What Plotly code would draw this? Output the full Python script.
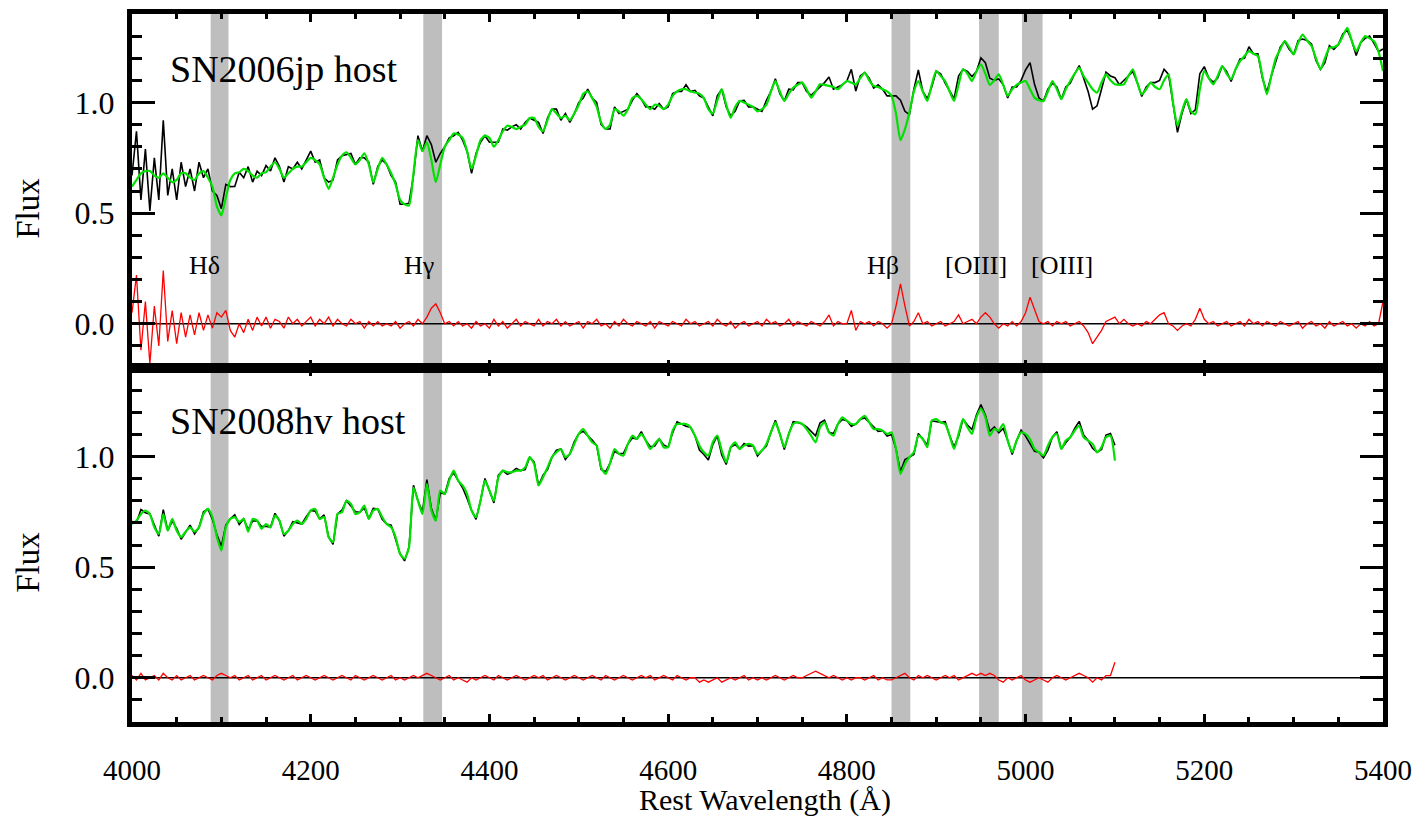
import plotly.graph_objects as go

# ---------------- data ----------------
wl_top = list(range(4000, 5401, 5))
model_top = [
    0.62, 0.65, 0.68, 0.69, 0.69, 0.67, 0.66, 0.68, 0.66, 0.64, 0.65, 0.68, 0.68, 0.66, 0.65, 0.68, 0.69, 0.66, 0.62, 0.53,
    0.49, 0.57, 0.65, 0.68, 0.685, 0.70, 0.69, 0.67, 0.66, 0.68, 0.685, 0.71, 0.73, 0.70, 0.66, 0.68, 0.70, 0.71, 0.71, 0.73,
    0.75, 0.74, 0.72, 0.66, 0.61, 0.66, 0.72, 0.76, 0.775, 0.75, 0.72, 0.74, 0.77, 0.72, 0.64, 0.70, 0.75, 0.72, 0.68, 0.63,
    0.56, 0.54, 0.535, 0.68, 0.83, 0.78, 0.82, 0.74, 0.64, 0.72, 0.80, 0.83, 0.86, 0.855, 0.84, 0.78, 0.70, 0.76, 0.83, 0.85,
    0.84, 0.80, 0.83, 0.87, 0.895, 0.89, 0.88, 0.89, 0.90, 0.93, 0.93, 0.89, 0.87, 0.92, 0.97, 0.95, 0.93, 0.94, 0.92, 0.95,
    0.99, 1.04, 1.05, 1.02, 0.98, 0.91, 0.88, 0.90, 0.97, 0.96, 0.94, 0.97, 1.02, 1.03, 1.015, 0.99, 0.97, 0.99, 0.985, 0.97,
    0.99, 1.03, 1.05, 1.06, 1.06, 1.05, 1.045, 1.04, 1.02, 0.97, 0.95, 1.01, 1.06, 0.99, 0.93, 0.98, 1.007, 1.00, 0.99, 0.98,
    0.96, 0.97, 0.99, 1.05, 1.097, 1.05, 1.007, 1.04, 1.067, 1.08, 1.09, 1.06, 1.022, 1.05, 1.082, 1.08, 1.075, 1.07, 1.06, 1.08,
    1.097, 1.09, 1.082, 1.11, 1.135, 1.10, 1.075, 1.07, 1.06, 1.05, 1.03, 0.95, 0.83, 0.88, 0.955, 1.05, 1.097, 1.05, 1.007, 1.08,
    1.142, 1.12, 1.097, 1.05, 1.007, 1.08, 1.15, 1.13, 1.097, 1.14, 1.172, 1.13, 1.08, 1.10, 1.127, 1.08, 1.03, 1.06, 1.08, 1.09,
    1.097, 1.06, 1.022, 1.01, 1.007, 1.05, 1.097, 1.06, 1.015, 1.06, 1.097, 1.13, 1.157, 1.12, 1.09, 1.06, 1.045, 1.09, 1.127, 1.10,
    1.082, 1.08, 1.082, 1.12, 1.15, 1.09, 1.037, 1.06, 1.09, 1.07, 1.06, 1.10, 1.127, 1.00, 0.895, 0.96, 1.015, 0.96, 0.947, 1.06,
    1.142, 1.11, 1.082, 1.12, 1.165, 1.13, 1.105, 1.15, 1.187, 1.21, 1.232, 1.22, 1.21, 1.12, 1.037, 1.12, 1.20, 1.24, 1.277, 1.25,
    1.217, 1.27, 1.307, 1.28, 1.255, 1.20, 1.15, 1.20, 1.247, 1.25, 1.262, 1.30, 1.337, 1.28, 1.232, 1.27, 1.30, 1.29, 1.277, 1.23,
    1.142,
]
resid_top = [
    0.05, 0.22, -0.12, 0.10, -0.18, 0.08, -0.10, 0.24, -0.08, 0.06, -0.09, 0.05, -0.06, 0.04, -0.05, 0.05, -0.03, 0.04, -0.02, 0.05,
    0.03, 0.06, -0.03, -0.06, 0.0, -0.04, 0.02, -0.03, 0.03, -0.01, 0.03, -0.02, 0.02, 0.01, -0.02, 0.03, 0.0, 0.02, -0.01, 0.01,
    0.03, -0.01, 0.02, 0.0, 0.03, -0.01, 0.02, 0.0, -0.01, 0.02, 0.0, 0.01, -0.02, 0.01, -0.01, 0.01, -0.01, 0.0, -0.01, 0.01,
    -0.02, 0.0, 0.01, -0.01, 0.02, 0.0, 0.03, 0.07, 0.09, 0.05, 0.0, 0.01, -0.01, 0.01, -0.01, 0.0, -0.02, 0.01, -0.01, 0.0,
    -0.02, 0.02, -0.01, 0.01, -0.02, 0.0, 0.02, -0.01, 0.01, 0.0, -0.01, 0.02, -0.01, 0.01, 0.0, 0.02, -0.01, 0.01, -0.01, 0.0,
    0.01, -0.02, 0.01, 0.0, 0.02, -0.01, 0.0, -0.02, 0.01, -0.01, 0.02, 0.0, -0.01, 0.01, 0.0, -0.01, 0.01, -0.02, 0.01, 0.0,
    -0.01, 0.01, 0.0, -0.01, 0.02, 0.0, 0.01, -0.01, 0.0, 0.01, -0.01, 0.02, 0.0, -0.01, 0.01, -0.02, 0.0, 0.01, -0.01, 0.0,
    0.01, -0.01, 0.02, 0.0, 0.01, -0.01, 0.0, 0.02, -0.01, 0.01, 0.0, -0.01, 0.01, 0.0, -0.01, 0.01, 0.04, -0.01, 0.01, 0.0,
    0.0, 0.06, -0.03, 0.01, 0.0, 0.01, -0.01, 0.01, 0.0, -0.02, 0.0, 0.08, 0.18, 0.08, -0.01, 0.01, 0.05, 0.0, 0.01, -0.01,
    0.0, 0.01, -0.01, 0.0, 0.01, 0.04, 0.0, 0.01, 0.02, 0.0, 0.03, 0.05, 0.03, 0.0, -0.02, 0.0, -0.01, 0.01, -0.01, 0.01,
    0.05, 0.12, 0.06, 0.01, 0.0, 0.01, -0.01, 0.01, 0.0, 0.01, -0.01, 0.0, 0.01, -0.01, -0.04, -0.09, -0.06, -0.03, 0.01, 0.02,
    0.03, 0.0, 0.02, 0.0, -0.01, 0.0, -0.01, 0.01, 0.0, 0.02, 0.04, 0.05, 0.0, -0.01, -0.03, -0.01, 0.0, -0.01, 0.02, 0.07,
    0.02, 0.0, 0.01, -0.01, 0.0, 0.01, -0.01, 0.0, 0.01, -0.01, 0.02, 0.0, 0.01, -0.01, 0.01, 0.0, -0.01, 0.01, 0.0, -0.01,
    0.0, 0.01, -0.02, 0.0, 0.01, -0.01, 0.0, -0.02, 0.01, -0.01, 0.0, 0.01, -0.01, 0.0, -0.02, 0.0, -0.01, 0.01, -0.01, 0.0,
    0.10,
]

wl_bot = list(range(4000, 5101, 5))
model_bot = [
    0.696, 0.71, 0.74, 0.756, 0.74, 0.68, 0.65, 0.74, 0.665, 0.718, 0.665, 0.636, 0.66, 0.68, 0.66, 0.68, 0.74, 0.763, 0.726, 0.636,
    0.575, 0.68, 0.718, 0.726, 0.703, 0.718, 0.66, 0.718, 0.71, 0.673, 0.695, 0.68, 0.733, 0.71, 0.65, 0.665, 0.695, 0.71, 0.695, 0.718,
    0.756, 0.763, 0.718, 0.726, 0.636, 0.613, 0.74, 0.748, 0.80, 0.786, 0.74, 0.748, 0.778, 0.718, 0.756, 0.763, 0.726, 0.695, 0.68, 0.636,
    0.56, 0.538, 0.59, 0.86, 0.80, 0.74, 0.876, 0.756, 0.71, 0.846, 0.83, 0.891, 0.936, 0.891, 0.869, 0.83, 0.756, 0.726, 0.80, 0.891,
    0.846, 0.80, 0.906, 0.936, 0.929, 0.929, 0.936, 0.936, 0.951, 0.997, 0.966, 0.869, 0.906, 0.951, 0.997, 1.019, 1.034, 0.997, 1.012, 1.057,
    1.102, 1.124, 1.094, 1.064, 1.049, 0.951, 0.921, 0.97, 1.034, 1.012, 1.004, 1.057, 1.094, 1.079, 1.102, 1.072, 1.034, 1.057, 1.079, 1.042,
    1.042, 1.117, 1.147, 1.147, 1.147, 1.132, 1.094, 1.049, 1.019, 1.004, 1.064, 1.094, 1.027, 0.974, 1.042, 1.064, 1.034, 1.049, 1.057, 1.049,
    1.012, 1.027, 1.057, 1.109, 1.154, 1.102, 1.042, 1.102, 1.147, 1.154, 1.147, 1.124, 1.094, 1.064, 1.132, 1.154, 1.109, 1.094, 1.147, 1.177,
    1.162, 1.147, 1.147, 1.169, 1.184, 1.154, 1.124, 1.124, 1.117, 1.102, 1.109, 1.034, 0.921, 0.966, 0.997, 1.019, 1.094, 1.079, 1.042, 1.162,
    1.169, 1.154, 1.147, 1.094, 1.034, 1.102, 1.169, 1.132, 1.102, 1.177, 1.215, 1.177, 1.094, 1.124, 1.117, 1.147, 1.072, 1.019, 1.072, 1.109,
    1.102, 1.079, 1.034, 1.019, 1.004, 1.049, 1.087, 1.102, 1.034, 1.072, 1.087, 1.117, 1.139, 1.087, 1.072, 1.057, 1.019, 1.042, 1.087, 1.094,
    0.981,
]
resid_bot = [
    0.01, -0.01, 0.02, -0.01, 0.0, 0.01, -0.01, 0.02, 0.0, -0.01, 0.01, -0.01, 0.0, 0.01, -0.01, 0.0, 0.01, 0.0, -0.01, 0.01,
    0.02, 0.01, 0.0, 0.01, -0.01, 0.0, 0.01, -0.01, 0.0, 0.01, -0.01, 0.0, 0.01, 0.0, -0.01, 0.0, 0.01, -0.01, 0.0, 0.01,
    0.0, -0.01, 0.0, 0.01, 0.0, -0.01, 0.0, 0.01, 0.0, -0.01, 0.01, 0.0, -0.01, 0.0, 0.01, 0.0, -0.01, 0.0, 0.01, -0.01,
    0.0, -0.01, 0.0, 0.01, 0.0, 0.01, 0.02, 0.01, 0.0, -0.01, 0.0, 0.01, -0.01, 0.0, -0.01, -0.02, 0.0, -0.01, 0.0, 0.01,
    0.0, -0.01, 0.01, 0.0, -0.01, 0.0, 0.01, 0.0, -0.01, 0.0, 0.01, 0.0, 0.01, -0.01, 0.0, 0.01, 0.0, -0.01, 0.0, 0.01,
    0.0, -0.01, 0.0, 0.01, 0.0, -0.01, 0.01, 0.0, -0.01, 0.0, 0.01, 0.0, -0.01, 0.0, 0.01, 0.0, 0.01, -0.01, 0.0, 0.01,
    0.0, -0.01, 0.01, 0.0, -0.01, 0.0, 0.0, -0.02, -0.01, -0.02, -0.01, 0.0, -0.02, -0.01, 0.0, -0.01, 0.0, 0.01, -0.01, 0.0,
    -0.01, 0.0, -0.01, 0.0, 0.01, 0.0, -0.01, 0.0, 0.01, 0.0, 0.0, 0.01, 0.02, 0.03, 0.02, 0.01, 0.0, 0.01, 0.0, -0.01,
    0.0, -0.01, 0.0, 0.0, -0.01, 0.0, 0.01, -0.01, 0.0, -0.01, -0.01, 0.0, 0.01, 0.02, 0.0, -0.01, 0.01, 0.0, 0.01, 0.0,
    -0.01, 0.0, 0.01, 0.0, 0.01, -0.01, 0.0, 0.01, 0.02, 0.01, 0.02, 0.01, 0.02, 0.01, -0.01, -0.02, 0.0, -0.01, 0.0, 0.01,
    -0.01, -0.02, -0.01, 0.0, -0.01, -0.02, 0.0, 0.01, 0.0, -0.01, 0.0, 0.01, 0.02, 0.01, 0.0, -0.02, 0.0, -0.01, 0.01, 0.01,
    0.07,
]

band_lo = [4088, 4326, 4850, 4948, 4996]
band_hi = [4108, 4347, 4871, 4970, 5019]
line_labels = ["Hδ", "Hγ", "Hβ", "[OIII]", "[OIII]"]
label_wl = [4081, 4321, 4841, 4944, 5041]
panel_names = ["SN2006jp host", "SN2008hv host"]
x_range = [4000, 5400]
y_range = [-0.2, 1.4]

assert len(model_top) == len(wl_top) == len(resid_top)
assert len(model_bot) == len(wl_bot) == len(resid_bot)

# observed = model + residual
obs_top = [m + r for m, r in zip(model_top, resid_top)]
obs_bot = [m + r for m, r in zip(model_bot, resid_bot)]

SERIF = "Liberation Serif, Times New Roman, serif"
GREEN = "rgb(0,225,0)"
RED = "rgb(255,0,0)"

fig = go.Figure()
panels = [
    ("x", "y", wl_top, obs_top, model_top, resid_top),
    ("x2", "y2", wl_bot, obs_bot, model_bot, resid_bot),
]
for xa, ya, wl, obs, mod, res in panels:
    fig.add_trace(go.Scatter(x=x_range, y=[0, 0], mode="lines", xaxis=xa, yaxis=ya,
                             line=dict(color="black", width=1.5), hoverinfo="skip"))
    fig.add_trace(go.Scatter(x=wl, y=obs, mode="lines", xaxis=xa, yaxis=ya,
                             line=dict(color="black", width=1.6), name="observed"))
    fig.add_trace(go.Scatter(x=wl, y=mod, mode="lines", xaxis=xa, yaxis=ya,
                             line=dict(color=GREEN, width=2.2, shape="spline", smoothing=0.6), name="model"))
    fig.add_trace(go.Scatter(x=wl, y=res, mode="lines", xaxis=xa, yaxis=ya,
                             line=dict(color=RED, width=1.3), name="residual"))

shapes = []
for yref in ["y domain", "y2 domain"]:
    xref = "x" if yref.startswith("y ") else "x2"
    for lo, hi in zip(band_lo, band_hi):
        shapes.append(dict(type="rect", xref=xref, yref=yref, x0=lo, x1=hi, y0=0, y1=1,
                           fillcolor="rgb(190,190,190)", line=dict(width=0), layer="below"))

annotations = []
for lab, wl in zip(line_labels, label_wl):
    annotations.append(dict(text=lab, x=wl, y=0.265, xref="x", yref="y", showarrow=False,
                            xanchor="center", yanchor="middle",
                            font=dict(family=SERIF, size=26, color="black")))
annotations.append(dict(text=panel_names[0], x=4040, y=1.15, xref="x", yref="y", showarrow=False,
                        xanchor="left", yanchor="middle", font=dict(family=SERIF, size=38, color="black")))
annotations.append(dict(text=panel_names[1], x=4040, y=1.16, xref="x2", yref="y2", showarrow=False,
                        xanchor="left", yanchor="middle", font=dict(family=SERIF, size=38, color="black")))
for yref, yy in [("y domain", 0.45), ("y2 domain", 0.45)]:
    annotations.append(dict(text="Flux", x=-0.083, y=yy, xref="paper", yref=yref, showarrow=False,
                            textangle=-90, xanchor="center", yanchor="middle",
                            font=dict(family=SERIF, size=33, color="black")))
annotations.append(dict(text="Rest Wavelength (Å)", x=0.506, y=-0.1095, xref="paper", yref="paper",
                        showarrow=False, xanchor="center", yanchor="middle",
                        font=dict(family=SERIF, size=30, color="black")))

xax = dict(range=x_range, showgrid=False, zeroline=False, showline=True, linewidth=5, linecolor="black",
           mirror="ticks", ticks="inside", ticklen=8, tickwidth=3, tickcolor="black",
           tick0=4000, dtick=200,
           minor=dict(ticks="inside", ticklen=5, tickwidth=3, tickcolor="black", dtick=50, tick0=4000,
                      showgrid=False),
           tickfont=dict(family=SERIF, size=29, color="black"))
yax = dict(range=y_range, showgrid=False, zeroline=False, showline=True, linewidth=5, linecolor="black",
           mirror="ticks", ticks="inside", ticklen=23, tickwidth=3, tickcolor="black",
           tick0=0, dtick=0.5, tickformat=".1f",
           minor=dict(ticks="inside", ticklen=10, tickwidth=3, tickcolor="black", dtick=0.1, tick0=0,
                      showgrid=False),
           tickfont=dict(family=SERIF, size=32, color="black"), ticklabelstandoff=6)

fig.update_layout(
    width=1428, height=817,
    margin=dict(l=132, r=45, t=9, b=95),
    paper_bgcolor="white", plot_bgcolor="white",
    showlegend=False,
    xaxis=dict(xax, domain=[0, 1], anchor="y", showticklabels=False),
    xaxis2=dict(xax, domain=[0, 1], anchor="y2", matches="x", showticklabels=True, ticklabelstandoff=18),
    yaxis=dict(yax, domain=[0.5, 1], anchor="x"),
    yaxis2=dict(yax, domain=[0, 0.5], anchor="x2"),
    shapes=shapes,
    annotations=annotations,
)

fig.write_html("out.html")
